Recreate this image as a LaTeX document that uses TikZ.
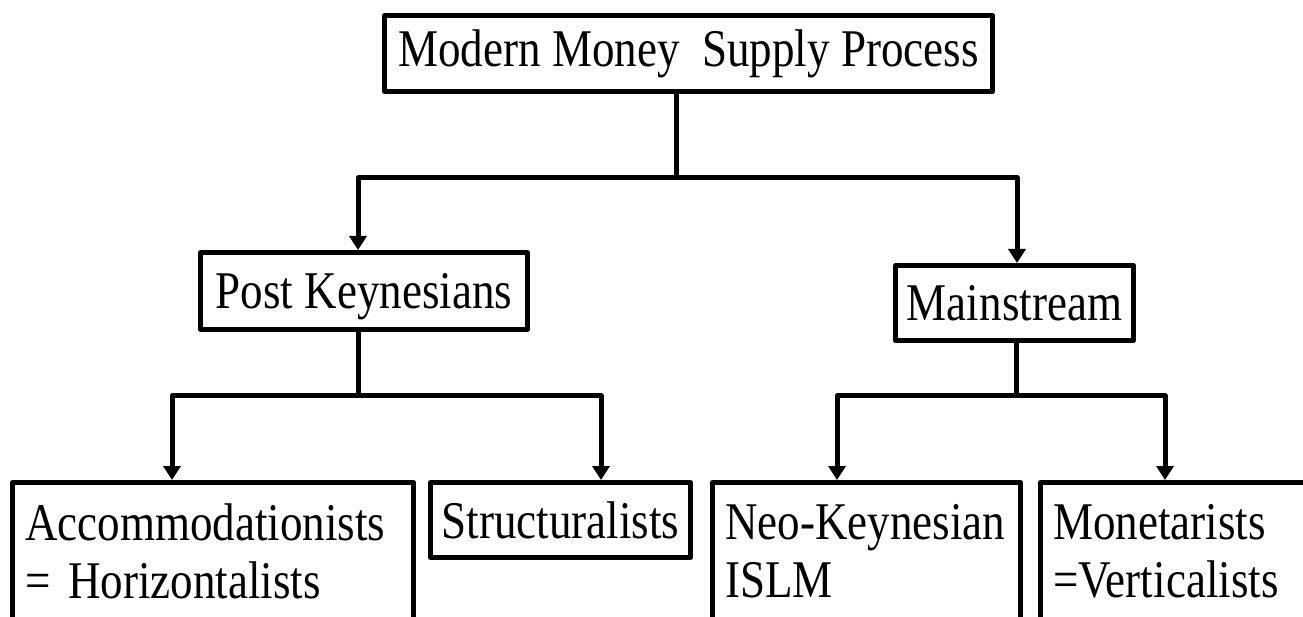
\documentclass[tikz,border=0pt]{standalone}
\usepackage{fontspec}
\setmainfont{Liberation Serif}[FakeStretch=0.85]
\usepackage{tikz}
\usetikzlibrary{positioning, arrows.meta}
\tikzstyle{head} = [rectangle, draw=black, line width=5pt, line join=round, inner sep=0pt, text height=36pt, text depth=0pt, font=\fontsize{53}{58}\selectfont]
\tikzstyle{school} = [rectangle, draw=black, line width=5pt, line join=round, inner xsep=12.5pt, align=left, minimum height=137pt, font=\fontsize{53}{58}\selectfont]
\tikzstyle{arrow} = [line width=5pt, line join=round, ->, >={Triangle[width=17pt,length=14pt]}]
\tikzstyle{line} = [line width=5pt, line join=round]

\begin{document}
\begin{tikzpicture}[x=1pt, y=1pt, on grid]

	\useasboundingbox (0,0) rectangle (1303,616);
	\clip (0,0) rectangle (1303,616);

	\node (p1) [head, minimum width=608pt, minimum height=76pt, text depth=9pt] at (688.5,562.5) {Modern Money\ \ Supply Process};
	\node (p2) [head, minimum width=327pt, minimum height=77pt, below left=237.5pt and 324.5pt of p1] {Post Keynesians};
	\node (p3) [head, minimum width=238pt, minimum height=75pt, below right=249.5pt and 326pt of p1] {Mainstream};

	\coordinate [below=84pt of p1.south, xshift=-12.5pt] (j1);
	\draw [line] ([xshift=-12.5pt]p1.south) -- (j1);
	\draw [arrow] (j1) -| ([xshift=-6pt]p2.north);
	\draw [arrow] (j1) -| ([xshift=2.5pt]p3.north);

	\node (p4) [school, text width=376pt, below left=260pt and 151pt of p2] {Accommodationists\\= Horizontalists};
	\node (p5) [head, minimum width=260pt, minimum height=75pt, below right=229pt and 196.5pt of p2] {Structuralists};
	\node (p6) [school, text width=283pt, below left=248pt and 148pt of p3] {Neo-Keynesian\\ISLM};
	\node (p7) [school, text width=275pt, below right=248pt and 176pt of p3] {Monetarists\\=Verticalists};

	\coordinate [below=64pt of p2.south, xshift=-6pt] (j2);
	\draw [line] ([xshift=-6pt]p2.south) -- (j2);
	\draw [arrow] (j2) -| ([xshift=162pt]p4.north west);
	\draw [arrow] (j2) -| ([xshift=173pt]p5.north west);

	\coordinate [below=53pt of p3.south, xshift=1.5pt] (j3);
	\draw [line] ([xshift=1.5pt]p3.south) -- (j3);
	\draw [arrow] (j3) -| ([xshift=127pt]p6.north west);
	\draw [arrow] (j3) -| ([xshift=127pt]p7.north west);

\end{tikzpicture}
\end{document}
